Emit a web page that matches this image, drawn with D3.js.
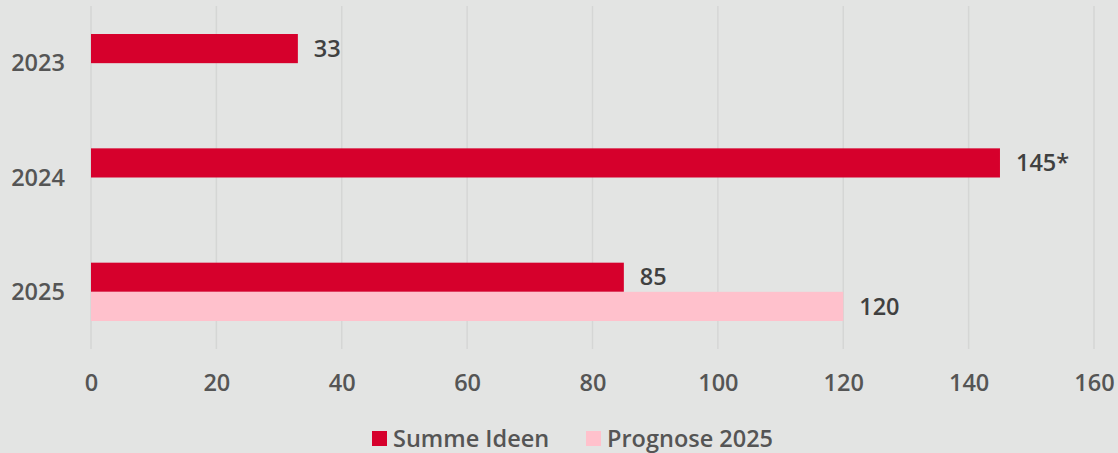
<!DOCTYPE html>
<html>
<head>
<meta charset="utf-8">
<script src="https://cdn.jsdelivr.net/npm/d3@7"></script>
<style>
  html, body { margin: 0; padding: 0; background: #e3e4e3; }
  #chart { width: 1118px; height: 453px; }
  text { font-family: 'Open Sans', sans-serif; }
</style>
</head>
<body>
<div id="chart"></div>
<script>
const years = ['2023', '2024', '2025']
const seriesNames = ['Summe Ideen', 'Prognose 2025']
const summe = [33, 145, 85]
const prognose = [null, null, 120]
const valueLabels = [['33', null], ['145*', null], ['85', '120']]
const xTicks = [0, 20, 40, 60, 80, 100, 120, 140, 160]
const colors = ['#d6002c', '#ffc1cc']

const createBarChart = () => {
  const id = '#chart'
  const width = 1118
  const height = 453
  const fontSize = 23.5

  const margin = { top: 6, right: 24, bottom: 104, left: 91 }
  const boundedWidth = width - margin.left - margin.right
  const boundedHeight = height - margin.top - margin.bottom

  const rows = years.map((y, i) => ({
    year: y,
    values: [summe[i], prognose[i]],
    labels: valueLabels[i]
  }))

  // canvas
  const wrapper = d3.select(id)
    .append('svg')
    .attr('width', width)
    .attr('height', height)

  wrapper.append('rect')
    .attr('width', width)
    .attr('height', height)
    .attr('fill', '#e3e4e3')

  const bounds = wrapper.append('g')
    .attr('transform', `translate(${margin.left},${margin.top})`)

  // scales
  const xScale = d3.scaleLinear()
    .domain([0, 160])
    .range([0, boundedWidth])

  const yScale = d3.scaleBand()
    .domain(years)
    .range([0, boundedHeight])
    .paddingInner(0.49)
    .paddingOuter(0.245)

  const subScale = d3.scaleBand()
    .domain(d3.range(seriesNames.length))
    .range([0, yScale.bandwidth()])

  // grid
  bounds.append('g')
    .selectAll('line')
    .data(xTicks)
    .join('line')
    .attr('x1', d => xScale(d))
    .attr('x2', d => xScale(d))
    .attr('y1', 0)
    .attr('y2', boundedHeight)
    .attr('stroke', '#d5d6d5')
    .attr('stroke-width', 1.5)

  // bars
  const groups = bounds.append('g')
    .selectAll('g')
    .data(rows)
    .join('g')
    .attr('transform', d => `translate(0,${yScale(d.year)})`)

  const cells = groups.selectAll('g')
    .data(d => d.values.map((v, i) => ({ v, i, label: d.labels[i] })).filter(c => c.v != null))
    .join('g')

  cells.append('rect')
    .attr('x', xScale(0))
    .attr('y', d => subScale(d.i))
    .attr('width', d => xScale(d.v) - xScale(0))
    .attr('height', subScale.bandwidth())
    .attr('fill', d => colors[d.i])

  cells.append('text')
    .attr('x', d => xScale(d.v) + 16)
    .attr('y', d => subScale(d.i) + subScale.bandwidth() / 2)
    .attr('dy', '0.35em')
    .attr('font-size', fontSize)
    .attr('font-weight', 600)
    .attr('fill', '#404040')
    .text(d => d.label)

  // y axis labels
  bounds.append('g')
    .selectAll('text')
    .data(years)
    .join('text')
    .attr('x', -53)
    .attr('y', d => yScale(d) + yScale.bandwidth() / 2)
    .attr('dy', '0.35em')
    .attr('text-anchor', 'middle')
    .attr('font-size', fontSize)
    .attr('font-weight', 600)
    .attr('fill', '#555555')
    .text(d => d)

  // x axis
  const xAxis = bounds.append('g')
    .attr('transform', `translate(0,${boundedHeight})`)
    .call(d3.axisBottom(xScale).tickValues(xTicks).tickSize(0).tickPadding(25))
  xAxis.select('.domain').remove()
  xAxis.selectAll('text')
    .attr('font-size', fontSize)
    .attr('font-weight', 600)
    .attr('fill', '#555555')
    .style('font-family', "'Open Sans', sans-serif")

  // legend
  const legendX = [372, 586]
  const legend = wrapper.append('g')
    .selectAll('g')
    .data(seriesNames)
    .join('g')
    .attr('transform', (d, i) => `translate(${legendX[i]},431)`)

  legend.append('rect')
    .attr('width', 15)
    .attr('height', 15)
    .attr('fill', (d, i) => colors[i])

  legend.append('text')
    .attr('x', 21)
    .attr('y', 7.5)
    .attr('dy', '0.35em')
    .attr('font-size', fontSize)
    .attr('font-weight', 600)
    .attr('fill', '#555555')
    .text(d => d)
}

createBarChart()
</script>
</body>
</html>
